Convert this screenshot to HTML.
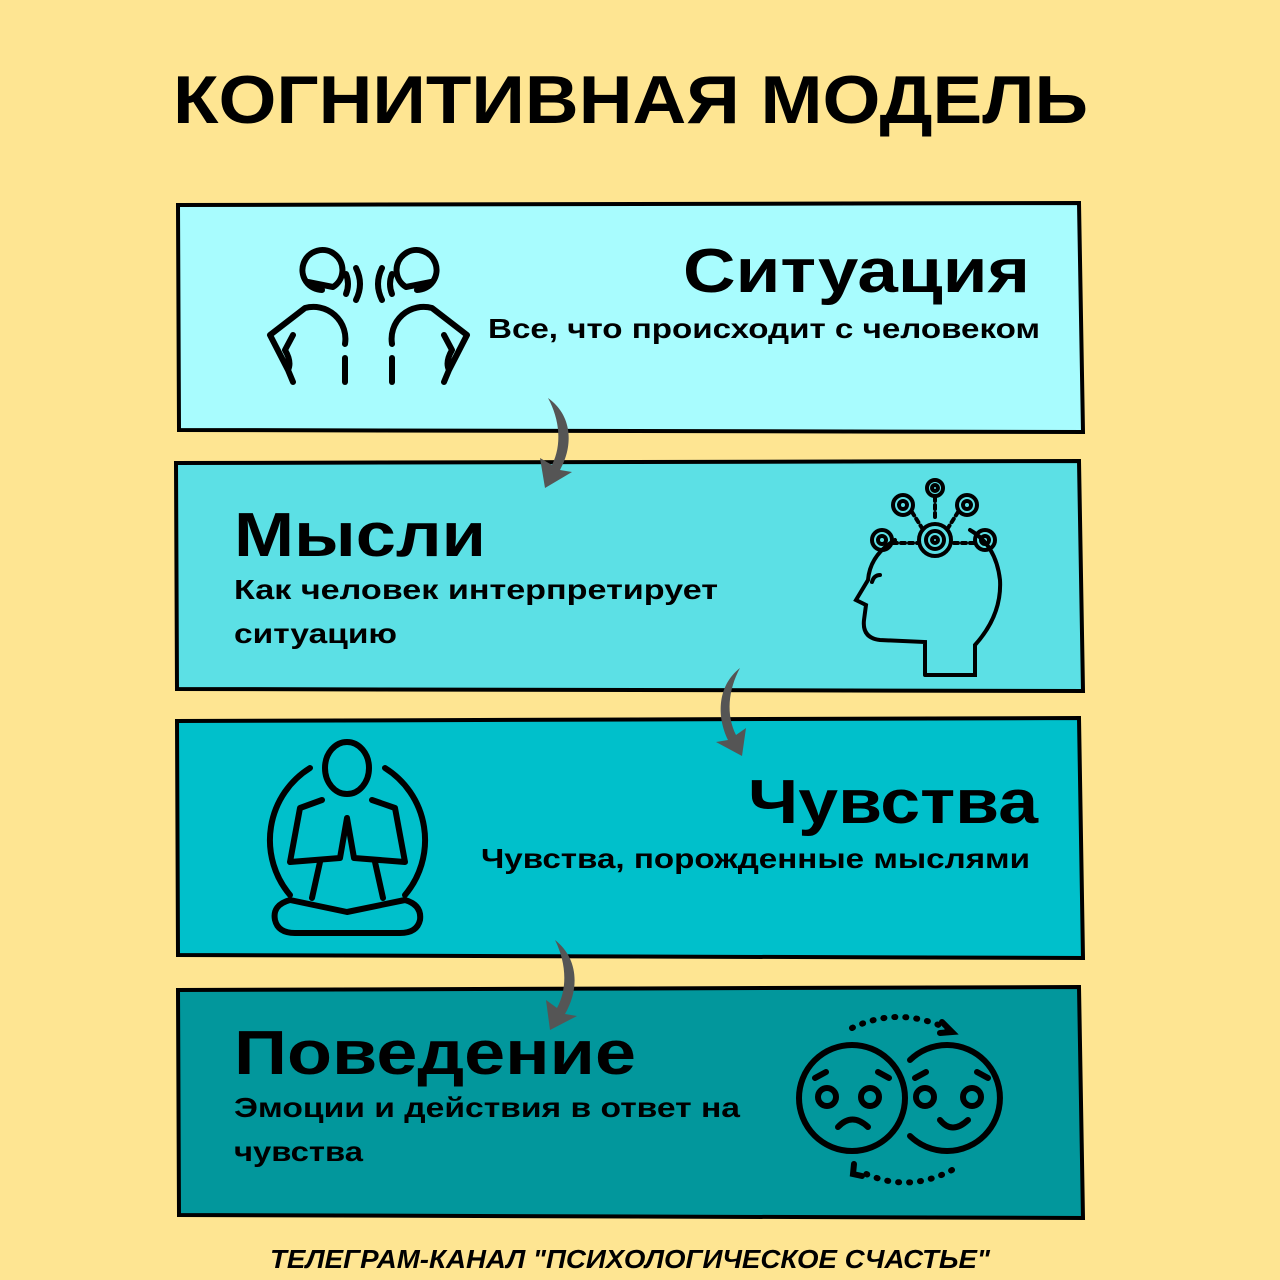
<!DOCTYPE html>
<html><head><meta charset="utf-8"><style>
body{margin:0;background:#fee592;}
svg{display:block}
text{font-family:"Liberation Sans","DejaVu Sans",sans-serif;font-weight:bold;fill:#000}
</style></head><body>
<svg width="1280" height="1280" viewBox="0 0 1280 1280">
<rect width="1280" height="1280" fill="#fee592"/>
<text x="173" y="123" font-size="68" textLength="915" lengthAdjust="spacingAndGlyphs">КОГНИТИВНАЯ  МОДЕЛЬ</text>

<polygon points="178,205 1079,203 1083,432 179,430" fill="#a8fcfe" stroke="#000" stroke-width="4"/>
<polygon points="176,463 1079,461 1083,691 177,689" fill="#5ce0e5" stroke="#000" stroke-width="4"/>
<polygon points="177,721 1079,718 1083,958 178,955" fill="#00c0cb" stroke="#000" stroke-width="4"/>
<polygon points="178,990 1079,987 1083,1218 179,1215" fill="#02979c" stroke="#000" stroke-width="4"/>

<text x="683" y="292" font-size="62" textLength="347" lengthAdjust="spacingAndGlyphs">Ситуация</text>
<text x="488" y="338" font-size="28" textLength="552" lengthAdjust="spacingAndGlyphs">Все, что происходит с человеком</text>

<text x="234" y="556" font-size="62" textLength="252" lengthAdjust="spacingAndGlyphs">Мысли</text>
<text x="234" y="599" font-size="28" textLength="484" lengthAdjust="spacingAndGlyphs">Как человек интерпретирует</text>
<text x="234" y="643" font-size="28" textLength="163" lengthAdjust="spacingAndGlyphs">ситуацию</text>

<text x="748" y="823" font-size="62" textLength="290" lengthAdjust="spacingAndGlyphs">Чувства</text>
<text x="481" y="868" font-size="28" textLength="549" lengthAdjust="spacingAndGlyphs">Чувства, порожденные мыслями</text>

<text x="234" y="1074" font-size="62" textLength="402" lengthAdjust="spacingAndGlyphs">Поведение</text>
<text x="234" y="1117" font-size="28" textLength="506" lengthAdjust="spacingAndGlyphs">Эмоции и действия в ответ на</text>
<text x="234" y="1161" font-size="28" textLength="129" lengthAdjust="spacingAndGlyphs">чувства</text>

<text x="270" y="1268" font-size="26" textLength="720" lengthAdjust="spacingAndGlyphs" font-style="italic">ТЕЛЕГРАМ-КАНАЛ "ПСИХОЛОГИЧЕСКОЕ СЧАСТЬЕ"</text>

<g fill="#555">
<path d="M548,398 C572,415 574,445 560,470 L572,472 L545,488 L540,458 L552,465 C562,445 560,420 548,398Z"/>
<path d="M740,668 C718,685 716,715 728,740 L716,742 L742,756 L746,728 L736,735 C726,715 728,690 740,668Z"/>
<path d="M555,940 C578,958 580,988 565,1014 L577,1016 L550,1030 L546,1000 L557,1008 C568,988 566,962 555,940Z"/>
</g>

<g fill="none" stroke="#000" stroke-width="6" stroke-linecap="round" stroke-linejoin="round">
<path d="M333,287 A20,20 0 1 0 322,290 L308,282 Z"/>
<path d="M406,287 A20,20 0 1 1 417,290 L431,282 Z"/>
<path d="M346,274 Q350,284 346,294"/><path d="M356,268 Q364,284 356,300"/>
<path d="M392,274 Q388,284 392,294"/><path d="M382,268 Q374,284 382,300"/>
<path d="M345,344 A32,32 0 0 0 305,308 L270,335 L288,370 M293,335 L285,350 Q292,362 288,370 L293,382"/>
<path d="M345,358 L345,382"/>
<path d="M392,344 A32,32 0 0 1 432,308 L467,335 L449,370 M444,335 L452,350 Q445,362 449,370 L444,382"/>
<path d="M392,358 L392,382"/>
</g>

<g fill="none" stroke="#000" stroke-width="4" stroke-linecap="round">
<path d="M925,675 L975,675 L975,645 Q1002,615 1000,580 Q996,545 970,530 M895,540 Q870,555 868,580 L856,600 L866,605 L864,620 Q862,638 880,640 L925,642 L925,675"/>
<path d="M880,575 Q874,575 872,582"/>
<circle cx="935" cy="488" r="8"/><circle cx="935" cy="488" r="3"/>
<circle cx="935" cy="540" r="16"/><circle cx="935" cy="540" r="9"/><circle cx="935" cy="540" r="3"/>
<circle cx="903" cy="505" r="10"/><circle cx="903" cy="505" r="4"/>
<circle cx="967" cy="505" r="10"/><circle cx="967" cy="505" r="4"/>
<circle cx="882" cy="540" r="10"/><circle cx="882" cy="540" r="4"/>
<circle cx="985" cy="540" r="10"/><circle cx="985" cy="540" r="4"/>
<path d="M935,497 L935,520 M912,512 L922,528 M958,512 L948,528 M893,543 L918,543 M974,543 L952,543" stroke-dasharray="4 4"/>
</g>

<g fill="none" stroke="#000" stroke-width="6" stroke-linecap="round" stroke-linejoin="round">
<path d="M310,768 A85,85 0 0 0 290,895"/>
<path d="M385,768 A85,85 0 0 1 405,895"/>
<ellipse cx="347" cy="768" rx="22" ry="26"/>
<path d="M322,800 L300,808 L290,862 L340,858 L347,818 L354,858 L405,862 L395,808 L372,800"/>
<path d="M320,862 L312,898 M375,862 L383,898"/>
<path d="M347,912 L290,900 Q272,905 275,920 Q278,933 295,933 L400,933 Q417,933 420,920 Q422,905 405,900 Z"/>
</g>

<g fill="none" stroke="#000" stroke-width="6" stroke-linecap="round">
<circle cx="852" cy="1098" r="53"/>
<path d="M910,1060 A53,53 0 1 1 910,1136"/>
<circle cx="827" cy="1097" r="9"/><circle cx="870" cy="1097" r="9"/>
<circle cx="925" cy="1097" r="9"/><circle cx="972" cy="1097" r="9"/>
<path d="M815,1078 L826,1072 M878,1072 L889,1078 M915,1078 L926,1072 M977,1072 L988,1078"/>
<path d="M838,1127 Q852,1112 868,1127"/>
<path d="M940,1120 Q952,1135 968,1120"/>
<path d="M852,1028 Q900,1005 950,1030" stroke-dasharray="1 10"/>
<path d="M942,1022 L952,1032 L940,1033"/>
<path d="M952,1170 Q905,1195 858,1170" stroke-dasharray="1 10"/>
<path d="M854,1164 L853,1174 L862,1176"/>
</g>
</svg>
</body></html>
